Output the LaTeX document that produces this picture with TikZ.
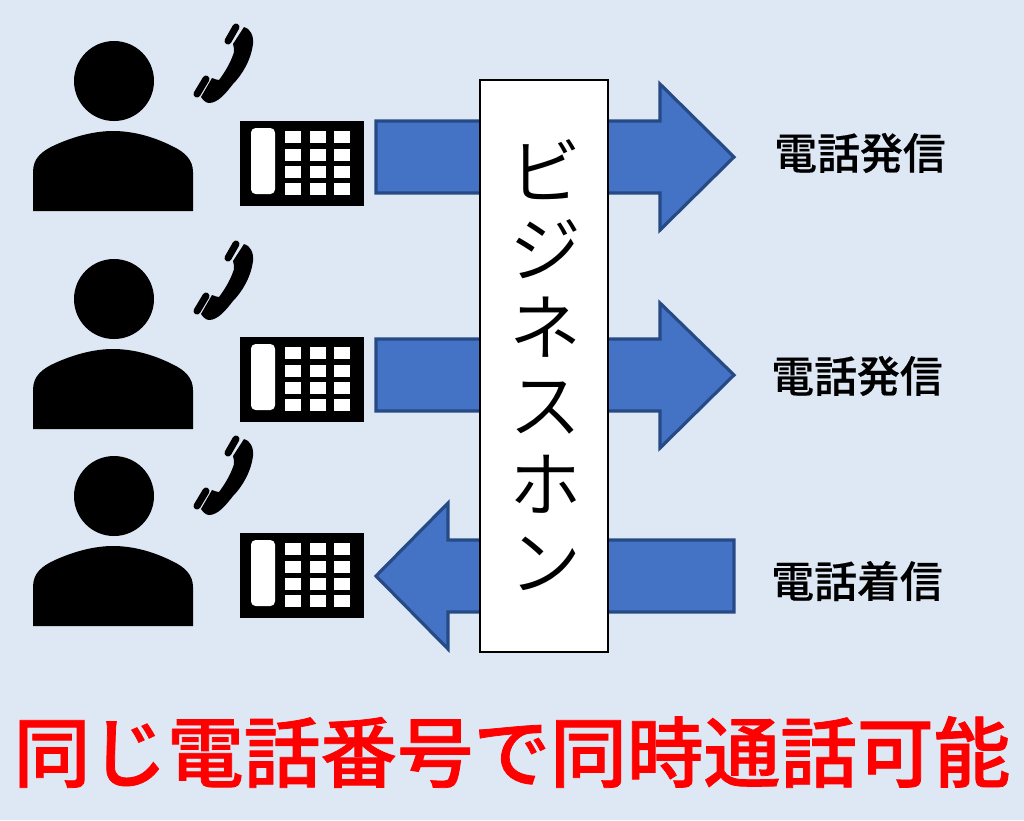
\documentclass[tikz,border=0pt]{standalone}
\usepackage{fontspec}
\setmainfont[FakeBold=0.35]{Noto Sans CJK JP Medium}
\newfontfamily\lightjp{Noto Sans CJK JP DemiLight}
\newfontfamily\heavyjp[FakeBold=1]{Noto Sans CJK JP Medium}
\definecolor{bgblue}{HTML}{DEE8F4}
\definecolor{arrowfill}{HTML}{4472C4}
\definecolor{arrowline}{HTML}{264A85}
\definecolor{headred}{HTML}{FF0000}
\tikzset{
 flowarrow/.style={fill=arrowfill, draw=arrowline, line width=0.9pt, line join=miter},
 lineface/.style={font=\fontsize{12.2}{12.2}\selectfont},
 handbar/.style={line width=2pt, line cap=round},
}
% person with handset, dy = row offset
\newcommand{\caller}[2]{
 \fill (114,81+#1) circle (40);
 \fill (33,211+#1) -- (33,172+#1) .. controls (33,158+#1) and (42,151+#1) .. (55,145+#1)
  .. controls (75,136+#1) and (95,131+#1) .. (113,131+#1)
  .. controls (132,131+#1) and (152,136+#1) .. (172,146+#1)
  .. controls (185,152+#1) and (193,160+#1) .. (193,172+#1) -- (193,211+#1) -- cycle;
 \fill (244,27+#2) .. controls (250,28+#2) and (254,36+#2) .. (253,44+#2)
  .. controls (251,60+#2) and (242,75+#2) .. (233,84+#2)
  .. controls (226,93+#2) and (218,103+#2) .. (209,103+#2)
  .. controls (206,103+#2) and (203,100+#2) .. (201,97+#2)
  -- (212,78+#2) .. controls (215,79+#2) and (217,80+#2) .. (219,80+#2)
  .. controls (225,72+#2) and (231,62+#2) .. (234,52+#2)
  .. controls (234,49+#2) and (234,47+#2) .. (233,44+#2) -- cycle;
 \draw[handbar] (236,27+#2) -- (228,41+#2);
 \draw[handbar] (206,79+#2) -- (197,94+#2);
}
% desk phone, dy = row offset
\newcommand{\deskphone}[1]{
 \fill (240,121+#1) rectangle (364,206+#1);
 \fill[white, rounded corners=1.3pt] (251,128+#1) rectangle (275,194+#1);
 \foreach \keyx in {285,310,334}
  \foreach \keyy in {131,148.5,166,183}
   \fill[white] (\keyx,\keyy+#1) rectangle (\keyx+16,\keyy+12+#1);
}
\begin{document}
\begin{tikzpicture}[x=0.01cm,y=-0.01cm]
 \fill[bgblue] (0,0) rectangle (1024,820);
 \useasboundingbox (0,0) rectangle (1024,820);

 \caller{0}{0}
 \caller{218}{217}
 \caller{415}{412}
 \deskphone{0}
 \deskphone{216}
 \deskphone{412}

 % arrows
 \draw[flowarrow] (376,121) -- (660,121) -- (660,84) -- (734,157) -- (660,230) -- (660,193) -- (376,193) -- cycle;
 \draw[flowarrow] (376,339) -- (660,339) -- (660,303) -- (734,375) -- (660,448) -- (660,411) -- (376,411) -- cycle;
 \draw[flowarrow] (734,540) -- (448,540) -- (448,503) -- (376,576) -- (448,649) -- (448,612) -- (734,612) -- cycle;

 \node[draw=black, fill=white, line width=0.6pt, anchor=north west, inner sep=0pt,
  minimum width=1.275cm, minimum height=5.72cm] (phonebox) at (479,79) {};
 \node[align=center, inner sep=0pt, font=\lightjp\fontsize{20.5}{22.2}\selectfont] (brand) at (546,365)
  {ビ\\ジ\\ネ\\ス\\ホ\\ン};

 \node[lineface] (call1) at (860,153) {電話発信};
 \node[lineface] (call2) at (857,376) {電話発信};
 \node[lineface] (call3) at (857,581) {電話着信};
 \node[text=headred, font=\heavyjp\fontsize{21.8}{21.8}\selectfont] (headline) at (512,752) {同じ電話番号で同時通話可能};
\end{tikzpicture}
\end{document}
